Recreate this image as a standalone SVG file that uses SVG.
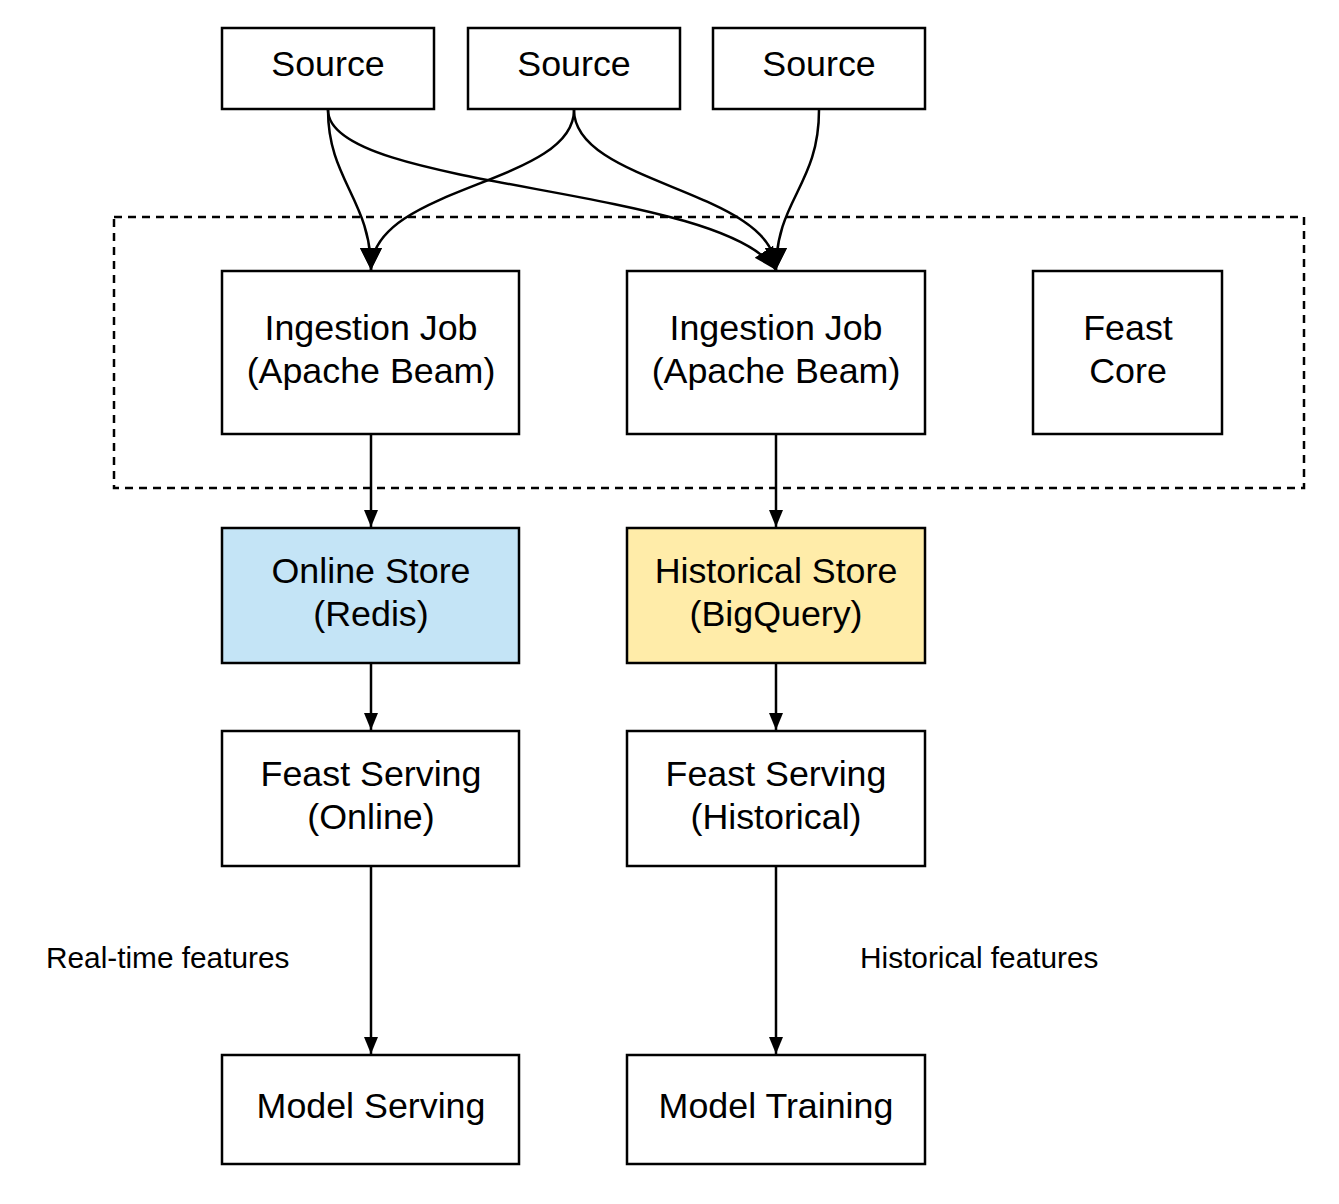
<svg xmlns="http://www.w3.org/2000/svg" width="1339" height="1204" viewBox="0 0 1339 1204">
<style>
.box{fill:#fff;stroke:#000;stroke-width:2.5}
.t{font-family:"Liberation Sans",Arial,sans-serif;font-size:35.8px;fill:#000;text-anchor:middle}
.lbl{font-family:"Liberation Sans",Arial,sans-serif;font-size:29.8px;fill:#000}
.c{fill:none;stroke:#000;stroke-width:2.5}
</style>
<defs>
<marker id="big" markerUnits="userSpaceOnUse" markerWidth="24" markerHeight="24" viewBox="0 0 24 24" refX="22" refY="12" orient="auto">
<path d="M0,1 L22,12 L0,23 Z" fill="#000"/>
</marker>
<marker id="sm" markerUnits="userSpaceOnUse" markerWidth="18" markerHeight="16" viewBox="0 0 18 16" refX="17" refY="8" orient="auto">
<path d="M0,1 L17,8 L0,15 Z" fill="#000"/>
</marker>
</defs>
<rect x="114" y="217" width="1190" height="271" fill="none" stroke="#000" stroke-width="2.5" stroke-dasharray="8,6"/>
<g id="connectors">
<path class="c" d="M328,110 C328,180 371,200 371,270" marker-end="url(#big)"/>
<path class="c" d="M574,110 C574,185 371,185 371,270" marker-end="url(#big)"/>
<path class="c" d="M328,110 C328,190 720,185 776,270" marker-end="url(#big)"/>
<path class="c" d="M574,110 C574,185 776,190 776,270" marker-end="url(#big)"/>
<path class="c" d="M819,110 C819,185 776,200 776,270" marker-end="url(#big)"/>
<path class="c" d="M371,434 L371,527" marker-end="url(#sm)"/>
<path class="c" d="M776,434 L776,527" marker-end="url(#sm)"/>
<path class="c" d="M371,663 L371,730" marker-end="url(#sm)"/>
<path class="c" d="M776,663 L776,730" marker-end="url(#sm)"/>
<path class="c" d="M371,866 L371,1054" marker-end="url(#sm)"/>
<path class="c" d="M776,866 L776,1054" marker-end="url(#sm)"/>
</g>
<g id="source1"><rect class="box" x="222" y="28" width="212" height="81"/><text class="t" x="328" y="76">Source</text></g>
<g id="source2"><rect class="box" x="468" y="28" width="212" height="81"/><text class="t" x="574" y="76">Source</text></g>
<g id="source3"><rect class="box" x="713" y="28" width="212" height="81"/><text class="t" x="819" y="76">Source</text></g>
<g id="ingest1"><rect class="box" x="222" y="271" width="297" height="163"/><text class="t" x="371" y="340">Ingestion Job</text><text class="t" x="371" y="383">(Apache Beam)</text></g>
<g id="ingest2"><rect class="box" x="627" y="271" width="298" height="163"/><text class="t" x="776" y="340">Ingestion Job</text><text class="t" x="776" y="383">(Apache Beam)</text></g>
<g id="core"><rect class="box" x="1033" y="271" width="189" height="163"/><text class="t" x="1128" y="340">Feast</text><text class="t" x="1128" y="383">Core</text></g>
<g id="online"><rect class="box" x="222" y="528" width="297" height="135" style="fill:#c4e4f6"/><text class="t" x="371" y="583">Online Store</text><text class="t" x="371" y="626">(Redis)</text></g>
<g id="historical"><rect class="box" x="627" y="528" width="298" height="135" style="fill:#ffeca9"/><text class="t" x="776" y="583">Historical Store</text><text class="t" x="776" y="626">(BigQuery)</text></g>
<g id="serving-online"><rect class="box" x="222" y="731" width="297" height="135"/><text class="t" x="371" y="786">Feast Serving</text><text class="t" x="371" y="829">(Online)</text></g>
<g id="serving-hist"><rect class="box" x="627" y="731" width="298" height="135"/><text class="t" x="776" y="786">Feast Serving</text><text class="t" x="776" y="829">(Historical)</text></g>
<g id="model-serving"><rect class="box" x="222" y="1055" width="297" height="109"/><text class="t" x="371" y="1118">Model Serving</text></g>
<g id="model-training"><rect class="box" x="627" y="1055" width="298" height="109"/><text class="t" x="776" y="1118">Model Training</text></g>
<g id="labels">
<text class="lbl" x="46" y="968">Real-time features</text>
<text class="lbl" x="860" y="968">Historical features</text>
</g>
</svg>
